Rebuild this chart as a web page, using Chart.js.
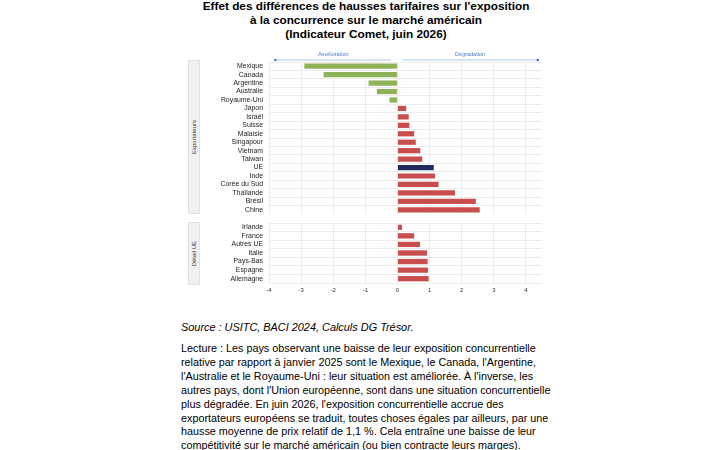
<!DOCTYPE html>
<html lang="fr">
<head>
<meta charset="UTF-8">
<title>Effet des différences de hausses tarifaires</title>
<script src="https://cdn.jsdelivr.net/npm/chart.js"></script>
<style>
  body { margin: 0; width: 720px; height: 450px; background: #fff; position: relative; overflow: hidden;
         font-family: "Liberation Sans", Arial, sans-serif; color: #000; }
  #titre { position: absolute; left: 166px; top: -1px; width: 400px; text-align: center;
           font-weight: bold; font-size: 11.8px; line-height: 14.2px; }
  .strip { position: absolute; left: 188px; width: 12px; background: #f0f0f0; border: 1px solid #e2e2e2;
           box-sizing: border-box; display: flex; align-items: center; justify-content: center; }
  .strip span { writing-mode: vertical-rl; transform: rotate(180deg); font-size: 6px; color: #333; white-space: nowrap; }
  .box { position: absolute; left: 200px; width: 342px; }
  #source { position: absolute; left: 181px; top: 321px; font-style: italic; font-size: 10.9px; }
  #lecture { position: absolute; left: 181px; top: 342px; font-size: 10.8px; line-height: 13.9px; white-space: nowrap; }
</style>
</head>
<body>
<div id="titre">Effet des différences de hausses tarifaires sur l'exposition<br>à la concurrence sur le marché américain<br>(Indicateur Comet, juin 2026)</div>

<div class="strip" style="top:60px;height:154px"><span>Exportateurs</span></div>
<div class="strip" style="top:222px;height:63px"><span>Détail UE</span></div>

<div class="box" style="top:48px;height:166px"><canvas id="chartExport"></canvas></div>
<div class="box" style="top:223px;height:74px"><canvas id="chartUE"></canvas></div>

<div id="source">Source : USITC, BACI 2024, Calculs DG Trésor.</div>
<div id="lecture">Lecture : Les pays observant une baisse de leur exposition concurrentielle<br>relative par rapport à janvier 2025 sont le Mexique, le Canada, l'Argentine,<br>l'Australie et le Royaume-Uni : leur situation est améliorée. À l'inverse, les<br>autres pays, dont l'Union européenne, sont dans une situation concurrentielle<br>plus dégradée. En juin 2026, l'exposition concurrentielle accrue des<br>exportateurs européens se traduit, toutes choses égales par ailleurs, par une<br>hausse moyenne de prix relatif de 1,1 %. Cela entraîne une baisse de leur<br>compétitivité sur le marché américain (ou bien contracte leurs marges).</div>

<script>
// Données
const exportateurs = ['Mexique', 'Canada', 'Argentine', 'Australie', 'Royaume-Uni', 'Japon', 'Israël', 'Suisse',
    'Malaisie', 'Singapour', 'Vietnam', 'Taiwan', 'UE', 'Inde', 'Corée du Sud', 'Thaïlande', 'Brésil', 'Chine'];
const valeursExport = [-2.9, -2.3, -0.9, -0.64, -0.25, 0.27, 0.35, 0.37, 0.52, 0.57, 0.71, 0.77, 1.13, 1.17, 1.28, 1.79, 2.44, 2.56];

const detailUE = ['Irlande', 'France', 'Autres UE', 'Italie', 'Pays-Bas', 'Espagne', 'Allemagne'];
const valeursUE = [0.14, 0.52, 0.7, 0.92, 0.94, 0.95, 0.97];

const ticksX = [-4, -3, -2, -1, 0, 1, 2, 3, 4];

const vert = '#8db257', rouge = '#c94d4d', marine = '#1f2a5c';
const grille = '#ececec';
Chart.defaults.font.family = '"Liberation Sans", Arial, sans-serif';
Chart.defaults.animation = false;

function couleurs(labels, valeurs) {
    return valeurs.map((v, i) => labels[i] === 'UE' ? marine : (v < 0 ? vert : rouge));
}

// flèches Amélioration / Dégradation au-dessus du graphique
const fleches = {
    id: 'fleches',
    afterDraw(chart) {
        const { ctx, scales: { x }, chartArea } = chart;
        const y = chartArea.top - 2;
        const segs = [
            { de: -3.8, a: -0.2, texte: 'Amélioration', pointe: 'gauche' },
            { de: 0.15, a: 4.37, texte: 'Dégradation', pointe: 'droite' }
        ];
        ctx.save();
        segs.forEach(s => {
            const x1 = x.getPixelForValue(s.de), x2 = x.getPixelForValue(s.a);
            ctx.strokeStyle = '#aec4e6';
            ctx.lineWidth = 1;
            ctx.beginPath();
            ctx.moveTo(x1, y);
            ctx.lineTo(x2, y);
            ctx.stroke();
            ctx.fillStyle = '#4a78c0';
            ctx.beginPath();
            ctx.arc(s.pointe === 'gauche' ? x1 : x2, y, 1.3, 0, Math.PI * 2);
            ctx.fill();
            ctx.font = '5.5px "Liberation Sans", Arial, sans-serif';
            ctx.textAlign = 'center';
            ctx.textBaseline = 'middle';
            ctx.fillStyle = '#4a78c0';
            ctx.fillText(s.texte, (x1 + x2) / 2, y - 6);
        });
        ctx.restore();
    }
};

function creerGraphique(id, labels, valeurs, avecAxe, plugins, paddingTop) {
    return new Chart(document.getElementById(id), {
        type: 'bar',
        data: {
            labels: labels,
            datasets: [{
                data: valeurs,
                backgroundColor: couleurs(labels, valeurs),
                barPercentage: 0.62,
                categoryPercentage: 1
            }]
        },
        options: {
            indexAxis: 'y',
            responsive: true,
            maintainAspectRatio: false,
            layout: { padding: { top: paddingTop, right: 0, left: 0, bottom: 0 } },
            plugins: { legend: { display: false }, tooltip: { enabled: false } },
            scales: {
                x: {
                    min: -4,
                    max: 4.5,
                    afterBuildTicks: axis => { axis.ticks = ticksX.map(v => ({ value: v })); },
                    afterFit: axis => { axis.height = avecAxe ? 14 : 0; },
                    grid: { color: grille, drawTicks: false },
                    border: { display: false },
                    ticks: { display: avecAxe, font: { size: 6 }, color: '#333', padding: 4 }
                },
                y: {
                    afterFit: axis => { axis.width = 69; axis.paddingTop = 0; axis.paddingBottom = 0; },
                    grid: { color: grille, drawTicks: false },
                    border: { display: false },
                    ticks: { font: { size: 6.9 }, color: '#222', padding: 6, autoSkip: false }
                }
            }
        },
        plugins: plugins
    });
}

creerGraphique('chartExport', exportateurs, valeursExport, false, [fleches], 14);
creerGraphique('chartUE', detailUE, valeursUE, true, [], 0);
</script>
</body>
</html>
